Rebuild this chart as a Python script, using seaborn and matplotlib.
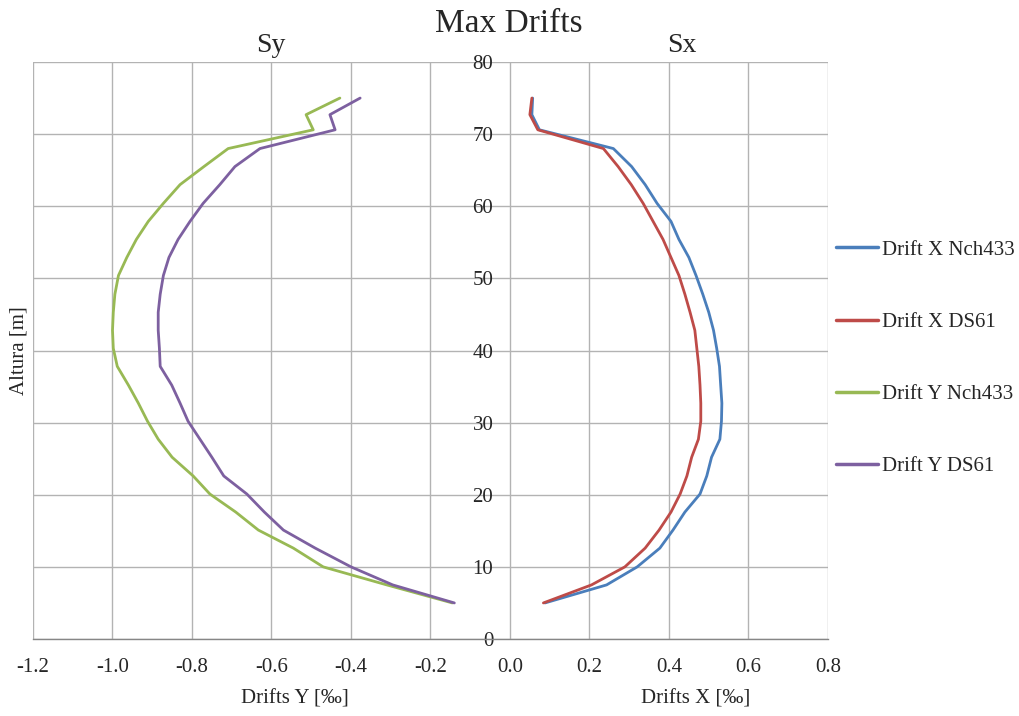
import matplotlib
matplotlib.use("Agg")
import matplotlib.pyplot as plt
import seaborn as sns
import pandas as pd

# Story heights [m]
altura = [5.0, 7.5, 10.0, 12.6, 15.1, 17.6, 20.1, 22.6, 25.2, 27.7, 30.2, 32.7,
          35.2, 37.8, 40.3, 42.8, 45.3, 47.8, 50.4, 52.9, 55.4, 57.9, 60.4, 63.0,
          65.5, 68.0, 70.6, 72.7, 75.0]

# Inter-story drifts [‰]
drift_x_nch433 = [0.088, 0.243, 0.320, 0.377, 0.410, 0.440, 0.478, 0.495, 0.507,
                  0.528, 0.532, 0.533, 0.530, 0.527, 0.520, 0.512, 0.500, 0.485,
                  0.468, 0.450, 0.425, 0.405, 0.370, 0.340, 0.306, 0.260, 0.074,
                  0.055, 0.057]
drift_x_ds61 = [0.084, 0.205, 0.289, 0.340, 0.375, 0.405, 0.428, 0.445, 0.457,
                0.474, 0.480, 0.480, 0.478, 0.475, 0.470, 0.465, 0.453, 0.440,
                0.425, 0.405, 0.385, 0.360, 0.335, 0.305, 0.272, 0.235, 0.070,
                0.050, 0.055]
drift_y_nch433 = [-0.145, -0.310, -0.470, -0.545, -0.633, -0.690, -0.755, -0.797,
                  -0.850, -0.885, -0.912, -0.935, -0.960, -0.988, -0.998, -1.000,
                  -0.998, -0.994, -0.985, -0.964, -0.940, -0.910, -0.872, -0.830,
                  -0.770, -0.709, -0.495, -0.513, -0.428]
drift_y_ds61 = [-0.140, -0.295, -0.400, -0.490, -0.570, -0.618, -0.662, -0.720,
                -0.750, -0.780, -0.810, -0.830, -0.851, -0.880, -0.882, -0.885,
                -0.885, -0.880, -0.872, -0.858, -0.835, -0.805, -0.772, -0.730,
                -0.692, -0.629, -0.440, -0.453, -0.377]

series = {
    "Drift X Nch433": drift_x_nch433,
    "Drift X DS61": drift_x_ds61,
    "Drift Y Nch433": drift_y_nch433,
    "Drift Y DS61": drift_y_ds61,
}
colors = ["#4A7EBB", "#BE4B48", "#98B954", "#7D60A0"]

x_ticks = [-1.2, -1.0, -0.8, -0.6, -0.4, -0.2, 0.0, 0.2, 0.4, 0.6, 0.8]
y_ticks = [0, 10, 20, 30, 40, 50, 60, 70, 80]

rows = []
for name, vals in series.items():
    for h, v in zip(altura, vals):
        rows.append({"serie": name, "drift": v, "altura": h})
df = pd.DataFrame(rows)

sns.set_style("white")
plt.rcParams["font.family"] = ["Liberation Serif", "DejaVu Serif"]

FS = 15

fig = plt.figure(figsize=(10.2, 7.16), dpi=100)
ax = fig.add_axes([33 / 1020, 1 - 639 / 716, (828 - 33) / 1020, (639 - 62) / 716])

sns.lineplot(data=df, x="drift", y="altura", hue="serie", palette=colors,
             estimator=None, sort=False, linewidth=2.0, ax=ax, legend=False)

ax.set_xlim(-1.2, 0.8)
ax.set_ylim(0, 80)
ax.set_xticks(x_ticks)
ax.set_xticklabels([f"{t:.1f}" for t in x_ticks])
ax.set_yticks(y_ticks)
ax.grid(True, color="#B3B3B3", linewidth=1.0)
ax.set_axisbelow(True)

for s in ["top", "right"]:
    ax.spines[s].set_visible(False)
ax.spines["left"].set_position(("data", 0))
ax.spines["left"].set_visible(False)
ax.spines["bottom"].set_color("#868686")
ax.spines["bottom"].set_linewidth(1.0)

ax.tick_params(axis="x", length=0, pad=14, labelsize=FS)
ax.tick_params(axis="y", length=0, pad=12, labelsize=FS)
ax.set_xlabel("")
ax.set_ylabel("")

fig.text(19 / 1020, 1 - 351 / 716, "Altura [m]", rotation=90, ha="center",
         va="center", fontsize=FS)
fig.text(295 / 1020, 1 - 699 / 716, "Drifts Y [‰]", ha="center", va="center",
         fontsize=FS)
fig.text(696 / 1020, 1 - 699 / 716, "Drifts X [‰]", ha="center", va="center",
         fontsize=FS)
fig.text(271 / 1020, 1 - 46 / 716, "Sy", ha="center", va="center", fontsize=20)
fig.text(682 / 1020, 1 - 46 / 716, "Sx", ha="center", va="center", fontsize=20)
fig.text(509 / 1020, 1 - 24 / 716, "Max Drifts", ha="center", va="center",
         fontsize=24)

handles = [plt.Line2D([], [], color=c, linewidth=2.5) for c in colors]
fig.legend(handles, list(series.keys()), loc="upper left",
           bbox_to_anchor=(836 / 1020, 1 - 240 / 716), frameon=False,
           fontsize=FS, handlelength=2.0, handletextpad=0.2, labelspacing=2.53,
           borderaxespad=0, borderpad=0)

fig.savefig("out.png", dpi=100)
